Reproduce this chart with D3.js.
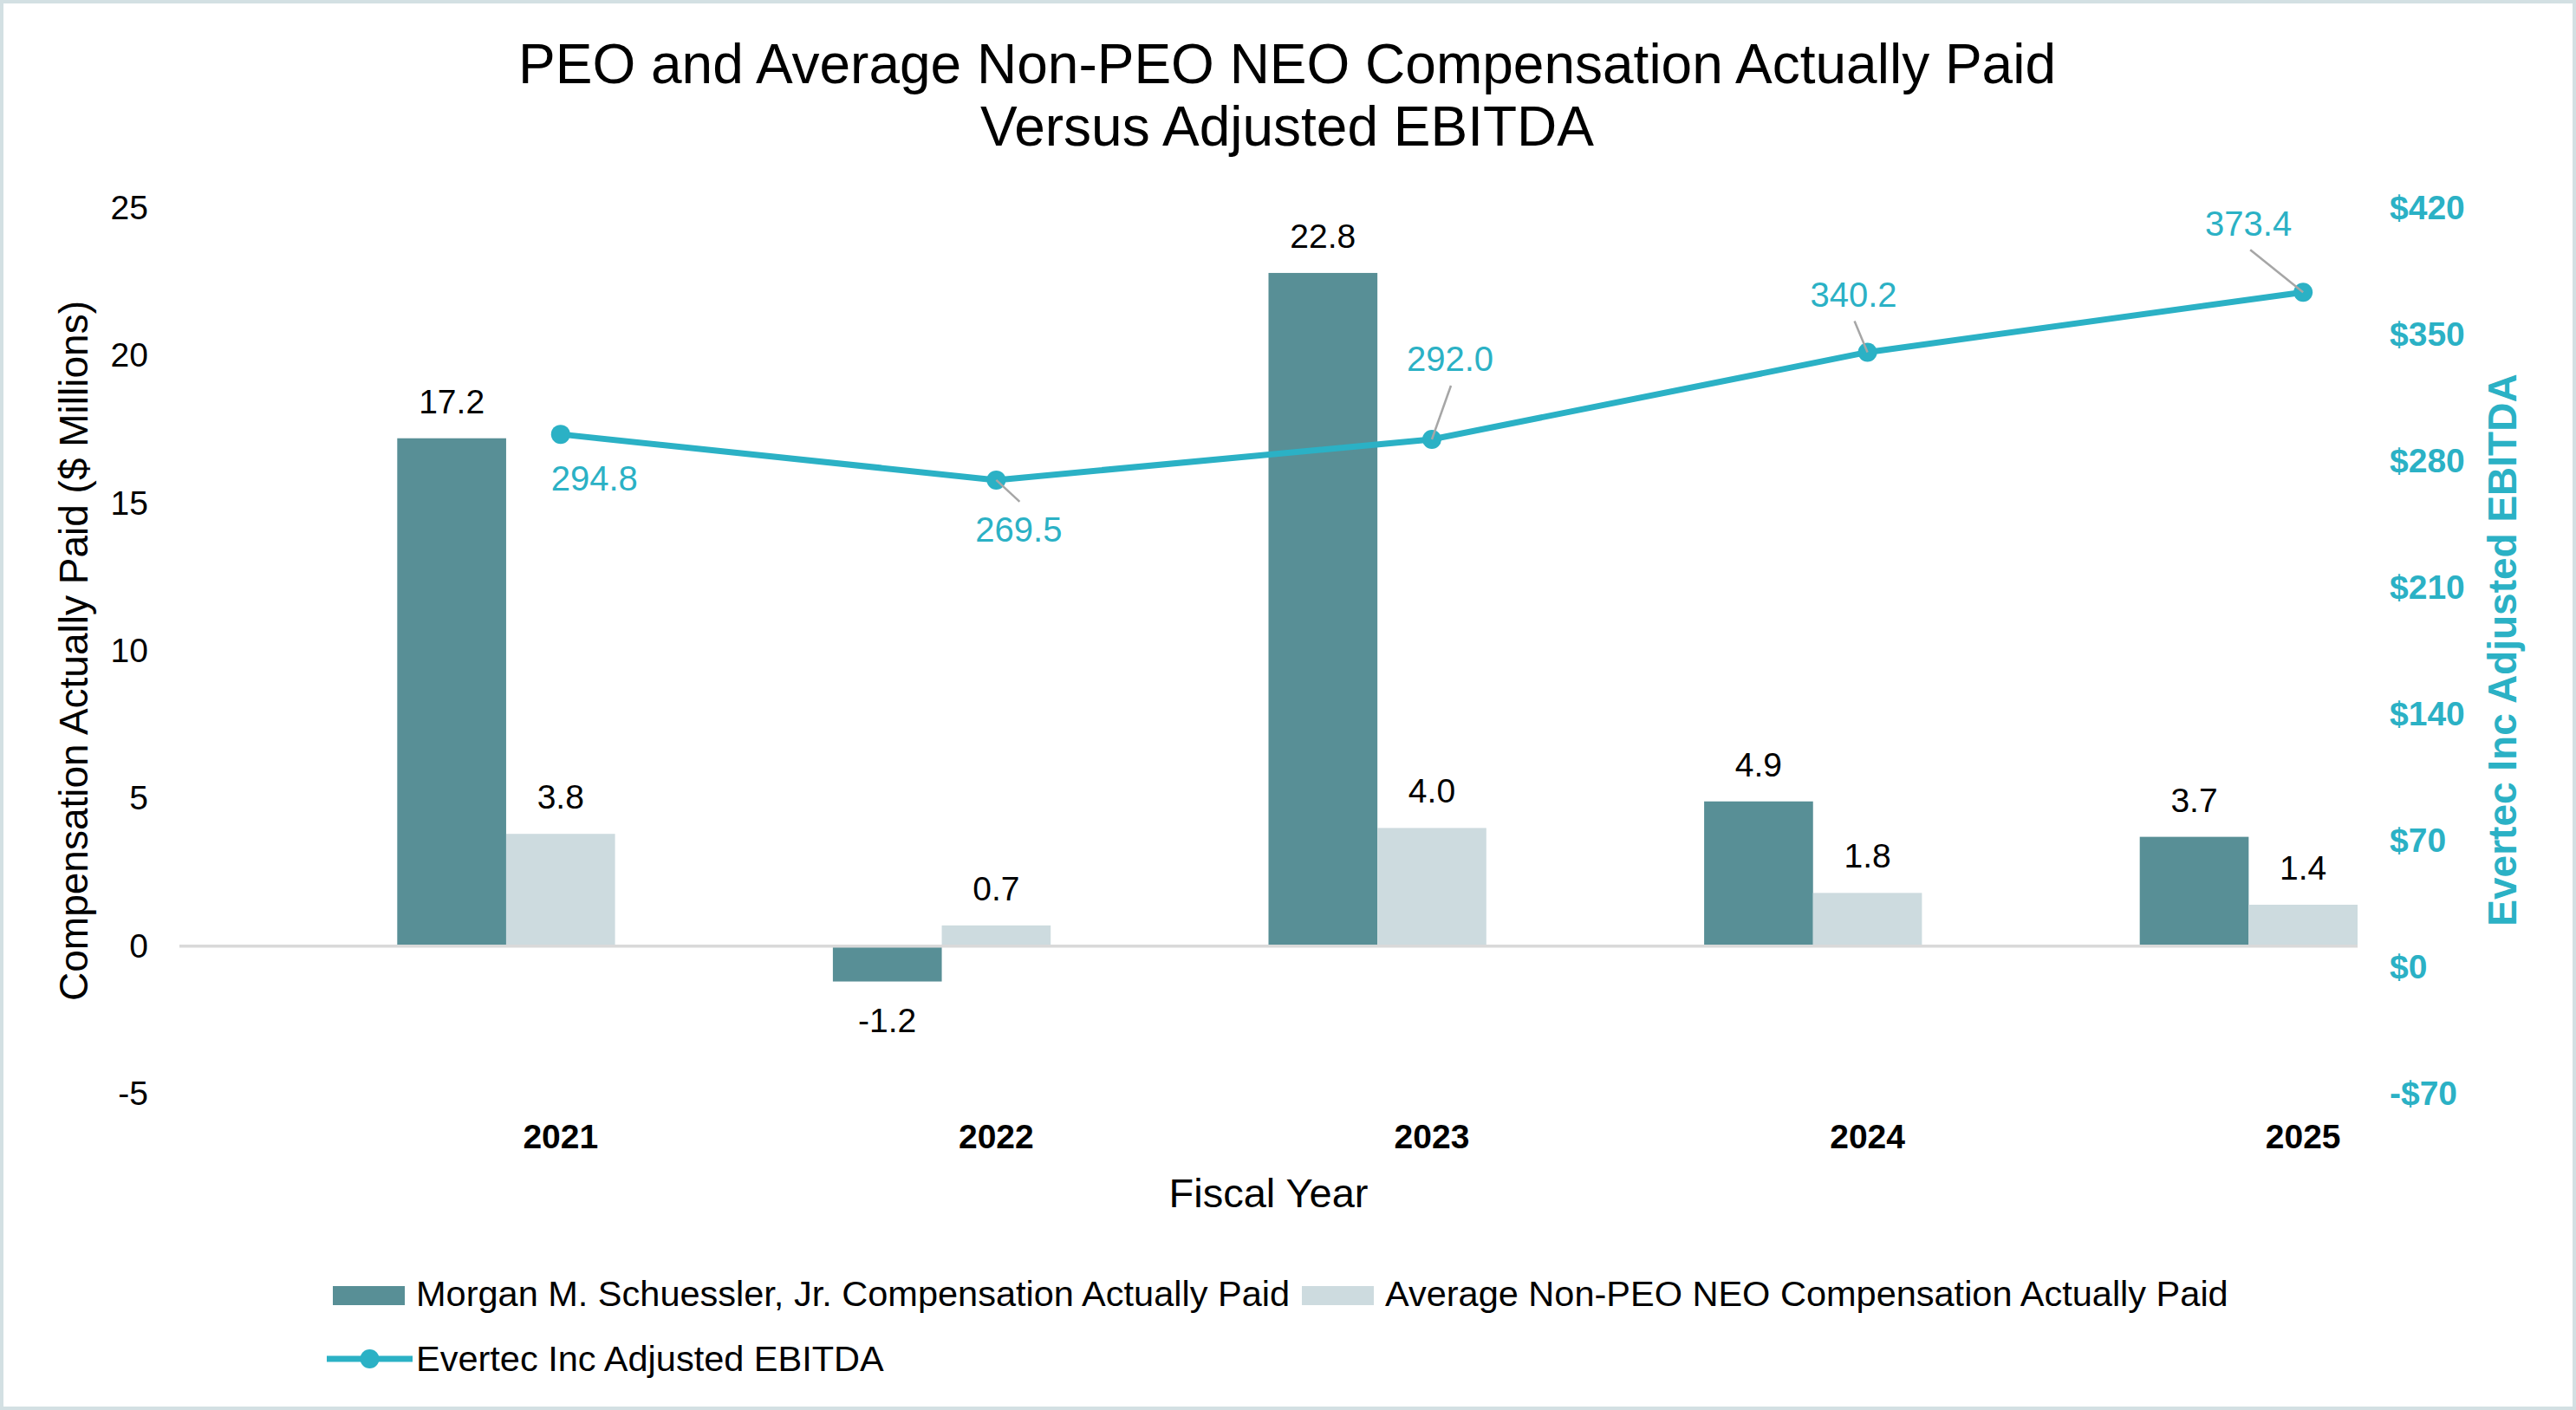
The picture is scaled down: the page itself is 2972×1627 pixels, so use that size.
<!DOCTYPE html>
<html lang="en">
<head>
    <meta charset="UTF-8">
    <title>PEO and Average Non-PEO NEO Compensation Actually Paid Versus Adjusted EBITDA</title>
    <script src="https://d3js.org/d3.v7.min.js"></script>
    <style>
        body {
            margin: 0;
            padding: 0;
            background-color: #ffffff;
            font-family: "Liberation Sans", Arial, sans-serif;
        }
        svg {
            display: block;
        }
    </style>
</head>
<body>
    <svg id="chart"></svg>

    <script>
        // data
        const years = ["2021", "2022", "2023", "2024", "2025"];
        const peoCap = [17.2, -1.2, 22.8, 4.9, 3.7];
        const neoCap = [3.8, 0.7, 4.0, 1.8, 1.4];
        const ebitda = [294.8, 269.5, 292.0, 340.2, 373.4];
        const leftTicks = [-5, 0, 5, 10, 15, 20, 25];
        const rightTicks = [-70, 0, 70, 140, 210, 280, 350, 420];
        const seriesNames = [
            "Morgan M. Schuessler, Jr. Compensation Actually Paid",
            "Average Non-PEO NEO Compensation Actually Paid",
            "Evertec Inc Adjusted EBITDA"
        ];

        // label placement for the line (dx, dy from the point; leader end)
        const lineLabelNudge = [
            { dx: 39, dy: 65, lead: null },
            { dx: 26, dy: 71, lead: [27, 25] },
            { dx: 21, dy: -79, lead: [22, -62] },
            { dx: -16, dy: -52, lead: [-15, -36] },
            { dx: -63, dy: -65, lead: [-61, -49] }
        ];

        const W = 2972, H = 1627;
        const colPeo = "#588f96";
        const colNeo = "#cddbdf";
        const colLine = "#2bb1c5";
        const font = '"Liberation Sans", Arial, sans-serif';

        const svg = d3.select("#chart").attr("width", W).attr("height", H);

        svg.append("rect")
            .attr("x", 2).attr("y", 2)
            .attr("width", W - 4).attr("height", H - 4)
            .attr("fill", "#ffffff")
            .attr("stroke", "#d3e0e3")
            .attr("stroke-width", 4);

        // title
        const title = svg.append("text")
            .attr("text-anchor", "middle")
            .attr("font-family", font)
            .attr("font-size", 64)
            .attr("fill", "#000");
        title.append("tspan").attr("x", 1485).attr("y", 96)
            .text("PEO and Average Non-PEO NEO Compensation Actually Paid");
        title.append("tspan").attr("x", 1485).attr("y", 168)
            .text("Versus Adjusted EBITDA");

        // scales
        const x0 = d3.scaleBand().domain(years).range([207, 2720]);
        // two empty slots come before the bars, like the source chart
        const x1 = d3.scaleBand().domain(["s1", "s2", "peo", "neo"]).range([0, x0.bandwidth()]);
        const yL = d3.scaleLinear().domain([-5, 25]).range([1262, 240]);
        const yR = d3.scaleLinear().domain([-70, 420]).range([1262, 240]);
        const xc = d => x0(d) + x1("neo") + x1.bandwidth() / 2;

        // axes (labels only)
        const axL = svg.append("g")
            .attr("transform", "translate(207,0)")
            .call(d3.axisLeft(yL).tickValues(leftTicks).tickSize(0).tickPadding(36)
                .tickFormat(d => String(d)));
        axL.select(".domain").remove();
        axL.selectAll("text")
            .attr("font-family", font).attr("font-size", 39).attr("fill", "#000");

        const axR = svg.append("g")
            .attr("transform", "translate(2720,0)")
            .call(d3.axisRight(yR).tickValues(rightTicks).tickSize(0).tickPadding(37)
                .tickFormat(d => (d < 0 ? "-$" : "$") + Math.abs(d)));
        axR.select(".domain").remove();
        axR.selectAll("text")
            .attr("font-family", font).attr("font-size", 39)
            .attr("font-weight", "bold").attr("fill", colLine);

        svg.append("text")
            .attr("transform", `translate(101,751) rotate(-90)`)
            .attr("text-anchor", "middle")
            .attr("font-family", font).attr("font-size", 46).attr("fill", "#000")
            .text("Compensation Actually Paid ($ Millions)");

        svg.append("text")
            .attr("transform", `translate(2903,750) rotate(-90)`)
            .attr("text-anchor", "middle")
            .attr("font-family", font).attr("font-size", 46)
            .attr("font-weight", "bold").attr("fill", colLine)
            .text("Evertec Inc Adjusted EBITDA");

        // bars
        const rows = years.map((y, i) => ({ year: y, peo: peoCap[i], neo: neoCap[i], eb: ebitda[i], i }));

        const barData = [];
        rows.forEach(r => {
            barData.push({ year: r.year, key: "peo", v: r.peo, color: colPeo });
            barData.push({ year: r.year, key: "neo", v: r.neo, color: colNeo });
        });

        svg.append("g").selectAll("rect")
            .data(barData)
            .enter()
            .append("rect")
            .attr("x", d => x0(d.year) + x1(d.key))
            .attr("width", x1.bandwidth())
            .attr("y", d => yL(Math.max(0, d.v)))
            .attr("height", d => Math.abs(yL(d.v) - yL(0)))
            .attr("fill", d => d.color);

        // zero / category axis line
        svg.append("line")
            .attr("x1", x0.range()[0]).attr("x2", x0.range()[1])
            .attr("y1", yL(0)).attr("y2", yL(0))
            .attr("stroke", "#d9d9d9").attr("stroke-width", 3.5);

        svg.append("g").selectAll("text")
            .data(barData)
            .enter()
            .append("text")
            .attr("x", d => x0(d.year) + x1(d.key) + x1.bandwidth() / 2)
            .attr("y", d => d.v >= 0 ? yL(d.v) - 29 : yL(d.v) + 58)
            .attr("text-anchor", "middle")
            .attr("font-family", font).attr("font-size", 39).attr("fill", "#000")
            .text(d => d.v.toFixed(1));

        // category labels
        svg.append("g").selectAll("text")
            .data(years)
            .enter()
            .append("text")
            .attr("x", d => xc(d))
            .attr("y", 1325)
            .attr("text-anchor", "middle")
            .attr("font-family", font).attr("font-size", 39)
            .attr("font-weight", "bold").attr("fill", "#000")
            .text(d => d);

        svg.append("text")
            .attr("x", (x0.range()[0] + x0.range()[1]) / 2)
            .attr("y", 1393)
            .attr("text-anchor", "middle")
            .attr("font-family", font).attr("font-size", 47).attr("fill", "#000")
            .text("Fiscal Year");

        // EBITDA line
        const line = d3.line().x(d => xc(d.year)).y(d => yR(d.eb));
        svg.append("path")
            .datum(rows)
            .attr("d", line)
            .attr("fill", "none")
            .attr("stroke", colLine)
            .attr("stroke-width", 7)
            .attr("stroke-linejoin", "round");

        svg.append("g").selectAll("circle")
            .data(rows)
            .enter()
            .append("circle")
            .attr("cx", d => xc(d.year))
            .attr("cy", d => yR(d.eb))
            .attr("r", 11)
            .attr("fill", colLine);

        svg.append("g").selectAll("line")
            .data(rows.filter(d => lineLabelNudge[d.i].lead))
            .enter()
            .append("line")
            .attr("x1", d => xc(d.year))
            .attr("y1", d => yR(d.eb))
            .attr("x2", d => xc(d.year) + lineLabelNudge[d.i].lead[0])
            .attr("y2", d => yR(d.eb) + lineLabelNudge[d.i].lead[1])
            .attr("stroke", "#a6a6a6").attr("stroke-width", 2.5);

        svg.append("g").selectAll("text")
            .data(rows)
            .enter()
            .append("text")
            .attr("x", d => xc(d.year) + lineLabelNudge[d.i].dx)
            .attr("y", d => yR(d.eb) + lineLabelNudge[d.i].dy)
            .attr("text-anchor", "middle")
            .attr("font-family", font).attr("font-size", 40).attr("fill", colLine)
            .text(d => d.eb.toFixed(1));

        // legend
        const legend = svg.append("g").attr("font-family", font).attr("font-size", 41.5);
        const sw = [
            { x: 384, y: 1484, color: colPeo, tx: 480, ty: 1507 },
            { x: 1502, y: 1484, color: colNeo, tx: 1598, ty: 1507 }
        ];
        sw.forEach((s, i) => {
            legend.append("rect")
                .attr("x", s.x).attr("y", s.y)
                .attr("width", 83).attr("height", 22)
                .attr("fill", s.color);
            legend.append("text")
                .attr("x", s.tx).attr("y", s.ty)
                .attr("fill", "#000")
                .text(seriesNames[i]);
        });
        legend.append("line")
            .attr("x1", 377).attr("x2", 476)
            .attr("y1", 1568).attr("y2", 1568)
            .attr("stroke", colLine).attr("stroke-width", 7);
        legend.append("circle")
            .attr("cx", 426.5).attr("cy", 1568).attr("r", 11)
            .attr("fill", colLine);
        legend.append("text")
            .attr("x", 480).attr("y", 1582)
            .attr("fill", "#000")
            .text(seriesNames[2]);
    </script>
</body>
</html>
